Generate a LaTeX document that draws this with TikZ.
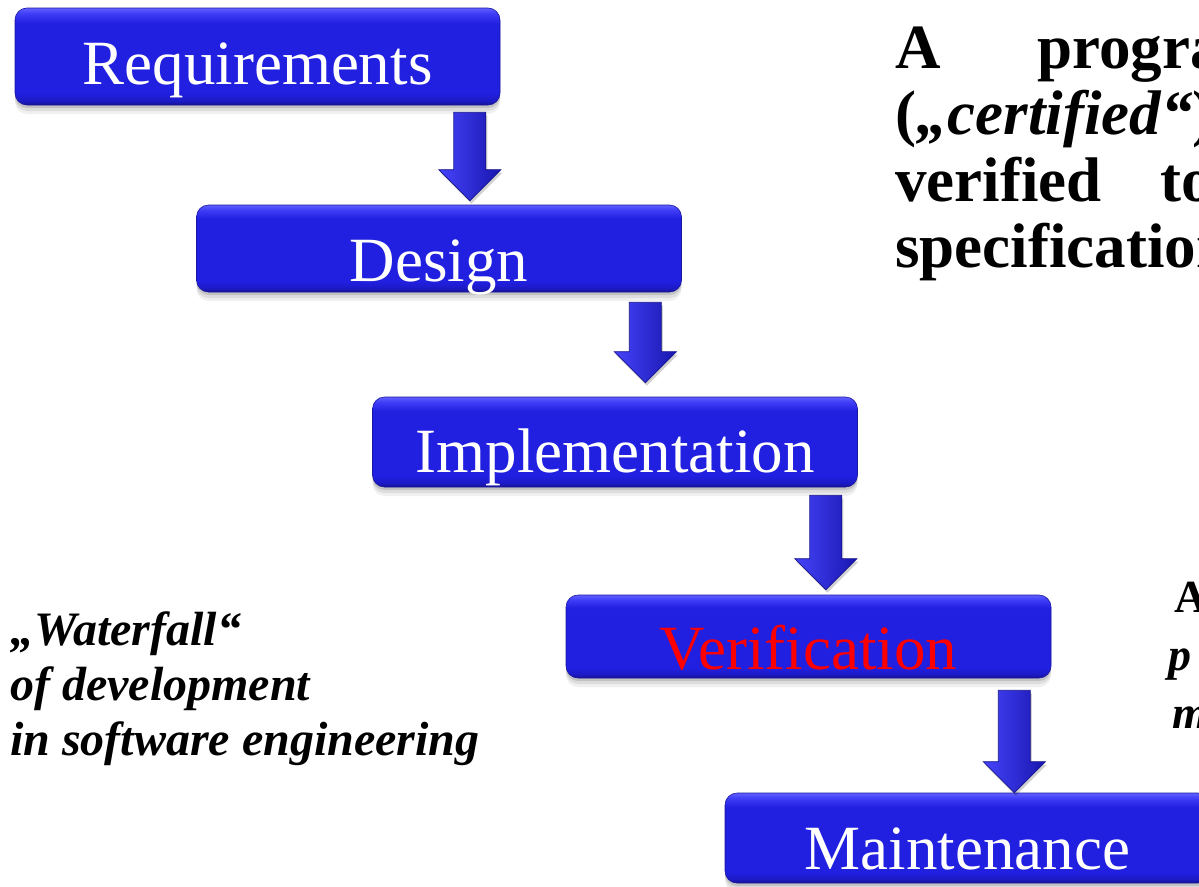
\documentclass[tikz,border=0pt]{standalone}
\usepackage{fontspec}
\setmainfont{Liberation Serif}
\usetikzlibrary{calc}

\definecolor{boxdark}{RGB}{20,18,140}
\definecolor{boxlow}{RGB}{28,26,195}
\definecolor{boxmain}{RGB}{33,31,224}
\definecolor{boxhigh}{RGB}{62,60,246}
\definecolor{boxtop}{RGB}{95,95,255}
\definecolor{boxedge}{RGB}{25,22,160}
\definecolor{arrlight}{RGB}{70,68,250}
\definecolor{arrmain}{RGB}{35,32,226}
\definecolor{arrdark}{RGB}{24,22,175}
\definecolor{arredge}{RGB}{22,20,140}
\definecolor{vermark}{RGB}{255,0,0}

% rounded stage box: darker rim at the bottom, light band at the top
\pgfdeclareverticalshading{stageshade}{100bp}{%
  color(0bp)=(boxdark); color(25bp)=(boxdark); color(27bp)=(boxlow);
  color(31bp)=(boxmain); color(67bp)=(boxmain); color(72bp)=(boxhigh);
  color(75bp)=(boxtop); color(100bp)=(boxtop)}

\tikzset{
  stage/.style={rounded corners=12pt, minimum width=485pt, inner sep=0pt,
    draw=boxedge, line width=0.6pt, shade, shading=stageshade,
    preaction={fill=black, fill opacity=0.06, transform canvas={yshift=-9pt}},
    preaction={fill=black, fill opacity=0.08, transform canvas={yshift=-6pt}},
    preaction={fill=black, fill opacity=0.12, transform canvas={yshift=-3pt}}},
  stagetext/.style={anchor=base, inner sep=0pt, text=white,
    font=\fontsize{63}{66}\selectfont},
  fallbody/.style={draw=arredge, line width=0.7pt, line join=miter,
    left color=arrlight, middle color=arrmain, right color=arrdark,
    preaction={fill=black, fill opacity=0.18, transform canvas={xshift=1.5pt,yshift=-3pt}}},
  bigbold/.style={anchor=base west, inner sep=0pt,
    font=\bfseries\fontsize{63}{66}\selectfont},
  sidenote/.style={anchor=base west, inner sep=0pt,
    font=\bfseries\itshape\fontsize{48}{55}\selectfont},
  smallbold/.style={anchor=base west, inner sep=0pt,
    font=\bfseries\fontsize{46}{56}\selectfont},
  smallboldit/.style={smallbold, font=\bfseries\itshape\fontsize{46}{56}\selectfont},
}

% block arrow hanging below stage #1 and pointing at stage #2
% #3: distance of the arrow axis from the right edge of #1
% #4: gap below #1, #5: gap above #2
\newcommand\fallarrow[5]{%
  \coordinate (#1-top) at ($(#1.south east)+(-#3,#4)$);
  \coordinate (#1-tip) at ($(#1-top |- #2.north)+(0,-#5)$);
  \path[fallbody] ($(#1-top)+(-16,0)$) -- ($(#1-top)+(16,0)$)
    -- ($(#1-tip)+(16,-31)$) -- ($(#1-tip)+(31,-31)$) -- (#1-tip)
    -- ($(#1-tip)+(-31,-31)$) -- ($(#1-tip)+(-16,-31)$) -- cycle;
}

\begin{document}
\begin{tikzpicture}[x=1pt,y=-1pt]
\useasboundingbox (0,0) rectangle (1199,886);
\clip (0,0) rectangle (1199,886);

% stages of the waterfall
\node[stage, minimum height=97pt] (req) at (257.5,56.5) {};
\node[stage, minimum height=87pt] (des) at (439,248.5) {};
\node[stage, minimum height=90pt] (imp) at (615,442) {};
\node[stage, minimum height=83pt] (ver) at (808.5,636.5) {};
\node[stage, minimum height=90pt] (mai) at (967.5,838) {};

\node[stagetext] (reqt) at ($(req.north)+(0,77)$) {Requirements};
\node[stagetext] (dest) at ($(des.north)+(0,77)$) {Design};
\node[stagetext] (impt) at ($(imp.north)+(0,76)$) {Implementation};
\node[stagetext, text=vermark] (vert) at ($(ver.north)+(0,75)$) {Verification};
\node[stagetext] (mait) at ($(mai.north)+(0,77)$) {Maintenance};

% arrows between consecutive stages
\fallarrow{req}{des}{30.5}{7}{4}
\fallarrow{des}{imp}{36.5}{10}{14}
\fallarrow{imp}{ver}{32}{8}{5}
\fallarrow{ver}{mai}{37}{12}{0}

% justified statement on the right
\node[bigbold] (r1) at (895,68) {\makebox[142pt][l]{A}program};
\node[bigbold] (r2) at (895,134) {(\textit{„certified“})};
\node[bigbold] (r3) at (895,201) {\makebox[265pt][l]{verified}to};
\node[bigbold] (r4) at (895,267) {specification};

% second statement, lower right
\node[smallbold] (s1) at (1174,612) {A};
\node[smallboldit] (s2) at (1168,670) {p};
\node[smallboldit] (s3) at (1172,728) {m};

% caption on the left
\node[sidenote] (l1) at (10,645) {„Waterfall“};
\node[sidenote] (l2) at (10,700) {of development};
\node[sidenote] (l3) at (10,755) {in software engineering};
\end{tikzpicture}
\end{document}
